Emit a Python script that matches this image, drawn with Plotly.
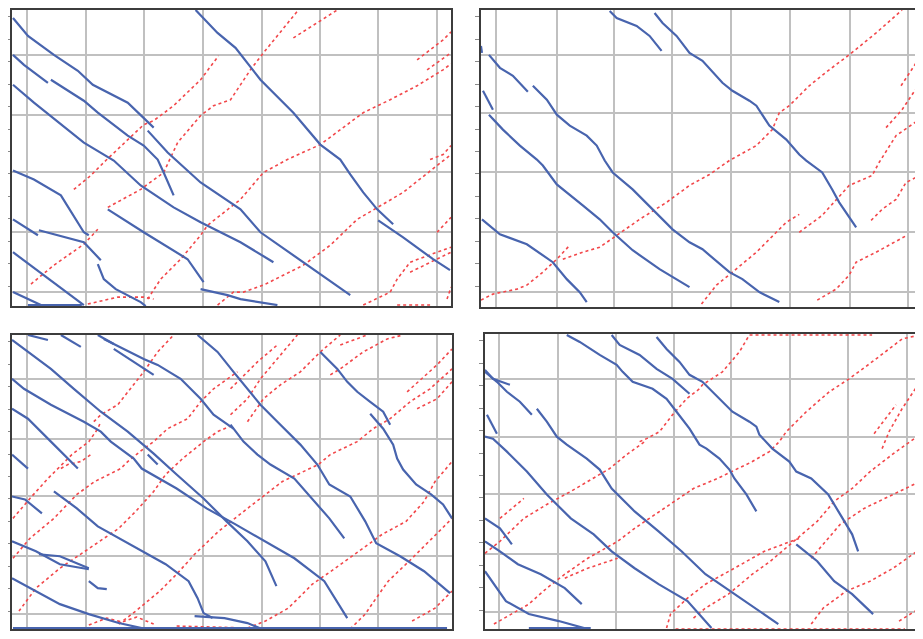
import plotly.graph_objects as go

# ---- Data: time (min from panel start) vs distance (km from top station) ----
# Each list holds train paths; each path is a list of (time, distance) points.

TL_BLUE = [
    [(1,8),(16,26),(42,45),(66,61),(81,75),(116,93),(142,118)],
    [(136,121),(156,143),(189,173),(229,200),(249,223),(292,253),(339,286)],
    [(1,45),(12,55),(36,73)],
    [(39,70),(72,91),(86,103),(116,126),(132,136),(146,150),(152,163),(162,186)],
    [(1,75),(22,93),(72,133),(102,151),(129,176),(162,198),(189,213),(229,233),(262,253)],
    [(1,161),(22,170),(49,186),(72,223),(77,226)],
    [(1,210),(26,226)],
    [(27,221),(72,233),(89,251)],
    [(86,255),(92,270),(104,280),(129,293),(134,297)],
    [(96,200),(132,223),(176,250),(192,273)],
    [(189,280),(216,286),(229,290),(266,296)],
    [(1,243),(32,266),(72,296)],
    [(1,283),(16,290),(29,296)],
    [(16,296),(70,296)],
    [(184,0),(206,23),(224,38),(249,70),(282,103),(309,135),(329,150),(339,165),(352,183),(366,200),(382,215)],
    [(367,211),(392,228),(422,250),(439,261)],
]
TL_RED = [
    [(62,180),(79,166),(94,151),(116,130),(132,115),(142,111),(162,96),(189,70),(207,46)],
    [(96,198),(129,180),(152,163),(161,143),(166,133),(189,106),(202,96),(219,90),(239,60),(252,43),(276,13),(287,0)],
    [(282,28),(306,13),(326,0)],
    [(19,275),(42,256),(72,235),(86,220)],
    [(136,290),(149,270),(169,250),(189,226),(196,216),(229,190),(252,163),(276,150),(309,135),(352,103),(379,90),(406,76),(432,60),(440,54)],
    [(206,296),(222,283),(232,283),(252,276),(292,256),(319,236),(346,210),(366,198),(392,183),(426,156),(440,145)],
    [(406,50),(432,30),(440,22)],
    [(416,60),(436,46),(440,43)],
    [(352,296),(379,283),(386,270),(399,253),(426,243),(440,238)],
    [(399,263),(419,253),(440,243)],
    [(426,223),(440,208)],
    [(436,290),(440,278)],
    [(76,295),(106,288),(132,288),(142,290)],
    [(386,296),(419,296)],
    [(419,150),(432,145),(440,136)],
]

TR_BLUE = [
    [(129,1),(136,8),(156,16),(169,26),(181,41)],
    [(174,3),(182,13),(196,26),(209,43),(222,51),(242,73),(252,81),(269,91),(276,96),(289,116),(306,130),(319,145),(326,151),(342,163),(352,180),(359,193),(376,218)],
    [(0,36),(1,43)],
    [(8,45),(19,58),(32,66),(47,82)],
    [(52,76),(66,90),(76,105),(89,116),(106,126),(116,136),(124,151),(132,163),(152,180),(172,200),(192,220),(209,233),(222,240),(249,263),(262,270),(279,283),(299,293)],
    [(2,81),(12,100)],
    [(8,105),(22,120),(39,136),(56,150),(62,156),(76,175),(102,196),(119,210),(132,223),(152,241),(179,260),(209,278)],
    [(1,210),(19,225),(46,235),(72,253),(86,270),(99,283),(106,293)],
]
TR_RED = [
    [(82,250),(102,243),(119,238),(136,226),(159,210),(186,193),(209,176),(229,165),(249,151),(276,136),(292,120),(299,103),(309,96),(329,76),(349,60),(369,45),(396,23),(422,0)],
    [(0,291),(12,285),(36,280),(46,276),(62,263),(76,250),(89,236)],
    [(221,295),(236,276),(252,263),(276,243),(296,223),(306,213),(319,205)],
    [(319,223),(342,206),(369,176),(392,166),(399,153),(416,126),(442,108)],
    [(406,118),(422,100),(442,70)],
    [(421,76),(442,44)],
    [(391,211),(402,200),(416,190),(426,173),(442,165)],
    [(337,291),(356,280),(369,266),(376,253),(396,243),(427,226)],
]

BL_BLUE = [
    [(0,5),(16,17),(39,34),(62,54),(89,77),(116,97),(142,119),(165,140),(192,164),(215,187),(236,207),(254,227),(265,252)],
    [(16,0),(36,5)],
    [(49,0),(69,12)],
    [(86,0),(102,9)],
    [(102,14),(122,27),(142,40)],
    [(92,4),(132,24),(146,30),(169,44),(189,64),(202,80),(222,94)],
    [(186,0),(206,17),(222,37),(236,54),(249,70),(269,90),(289,110),(306,130),(318,150),(339,162),(354,187),(365,209),(389,222),(413,237),(439,259)],
    [(0,44),(12,54),(39,70),(72,87),(89,97),(99,107),(122,124),(130,134),(165,154),(195,174),(224,190),(254,207),(283,224),(313,247),(336,284)],
    [(0,74),(16,84),(39,107),(56,124),(66,134)],
    [(0,120),(16,134)],
    [(136,120),(146,130)],
    [(309,17),(326,34),(336,47),(346,57),(359,67),(372,77),(379,90)],
    [(359,79),(372,94),(382,110),(386,124),(392,135),(405,150),(420,160),(432,170),(441,184)],
    [(219,90),(232,107),(246,120),(259,130),(283,144),(301,164),(318,184),(333,204)],
    [(42,157),(65,174),(86,192),(107,204),(130,217),(154,230),(177,247),(186,264),(192,279),(201,284)],
    [(0,162),(13,165),(30,179)],
    [(0,207),(24,217),(48,230),(77,235)],
    [(27,220),(48,222),(77,234)],
    [(0,244),(24,257),(48,270),(77,280),(107,289),(130,294)],
    [(77,247),(86,254),(95,255)],
    [(183,282),(213,284),(236,289),(248,294)],
    [(1,294),(436,294)],
]
BL_RED = [
    [(219,80),(236,64),(249,44),(269,20),(286,0)],
    [(219,54),(226,47),(246,27),(266,10)],
    [(236,87),(252,64),(269,50),(289,37),(309,17),(329,0)],
    [(329,10),(356,0)],
    [(319,40),(329,34),(352,17),(376,4),(392,0)],
    [(396,57),(426,30),(441,14)],
    [(107,290),(124,277),(148,257),(165,240),(183,220),(207,197),(236,174),(271,147),(307,130),(319,120),(346,107),(362,94),(379,84),(399,67),(419,54),(441,34)],
    [(406,74),(426,64),(441,47)],
    [(82,87),(89,80),(106,70),(122,50),(132,37),(146,17),(162,0)],
    [(1,224),(18,204),(42,184),(65,160),(83,147),(109,134),(116,127),(132,114),(142,107),(156,94),(176,84),(189,67),(202,54),(212,47),(226,37)],
    [(1,184),(18,164),(36,144),(60,120),(77,107),(86,94),(89,87)],
    [(49,134),(56,130),(69,127),(79,120)],
    [(7,277),(24,254),(48,234),(77,214),(107,194),(124,177),(142,157),(154,140),(171,124),(186,112),(192,107),(206,97),(222,90)],
    [(236,294),(254,287),(277,274),(301,250),(324,234),(348,217),(371,200),(395,187),(413,167),(424,147),(441,127)],
    [(339,295),(354,280),(365,264),(377,247),(401,224),(418,207),(441,184)],
    [(401,287),(424,274),(441,257)],
    [(77,291),(95,284),(110,288),(125,283),(142,290)],
    [(165,292),(236,294)],
]

BR_BLUE = [
    [(82,1),(95,8),(115,21),(132,31),(138,38),(148,48),(168,55),(182,65),(192,78),(205,95),(215,111),(222,115),(235,125),(245,136),(250,145),(262,161),(272,178)],
    [(127,1),(135,11),(155,21),(172,35),(188,45),(205,60)],
    [(172,3),(182,15),(195,28),(205,41),(218,48),(235,65),(248,78),(265,88),(272,93),(275,101),(288,115),(305,128),(312,138),(327,145),(344,161),(356,181),(368,201),(374,218)],
    [(0,36),(8,45),(25,51)],
    [(0,38),(12,48),(22,58),(35,68),(47,81)],
    [(52,75),(62,88),(72,103),(82,111),(102,125),(115,136),(127,155),(150,178),(174,198),(197,218),(221,241),(250,261),(280,281),(294,291)],
    [(2,81),(12,100)],
    [(0,103),(8,105),(22,118),(42,138),(62,161),(86,185),(109,201),(127,218),(150,235),(174,251),(203,268),(227,295)],
    [(312,211),(333,228),(350,248),(368,261),(389,281)],
    [(0,185),(15,195),(27,211)],
    [(0,208),(15,218),(33,231),(56,241),(80,255),(97,271)],
    [(0,238),(9,251),(21,268),(44,281),(74,288),(103,296)],
    [(44,295),(106,295)],
]
BR_RED = [
    [(155,108),(162,105),(175,98),(188,81),(202,65),(215,55),(218,51),(238,38),(255,18),(265,1),(305,1),(388,1)],
    [(0,220),(15,208),(39,185),(62,171),(86,158),(103,148),(125,135),(142,121),(160,108)],
    [(9,291),(27,281),(44,271),(62,255),(80,241),(103,225),(133,208),(150,195),(180,175),(209,155),(233,145),(268,128),(285,118),(295,108),(302,98),(322,78),(345,58),(365,45),(392,25),(418,5),(436,1)],
    [(390,100),(412,71)],
    [(398,115),(405,98),(418,75),(436,48)],
    [(209,285),(221,275),(244,261),(268,241),(286,228),(309,208),(333,188),(350,168),(368,155),(386,138),(412,118),(436,101)],
    [(182,295),(186,281),(203,265),(221,251),(250,235),(280,218),(315,205)],
    [(80,245),(103,235),(133,225)],
    [(327,225),(339,211),(356,191),(380,175),(415,158),(436,148)],
    [(327,291),(339,275),(362,258),(386,248),(409,235),(433,218)],
    [(415,288),(436,275)],
    [(15,185),(39,165)],
    [(191,296),(421,296)],
]

# hourly grid marks (time) and station marks (distance) per panel
TL_XGRID = [15, 74, 132, 191, 251, 309, 367, 426]
TL_YGRID = [45, 105, 163, 223, 283]
TR_XGRID = [15, 76, 133, 191, 251, 310, 370, 428]
TR_YGRID = [45, 103, 163, 223, 283]
BL_XGRID = [15, 74, 132, 191, 251, 309, 367, 426]
BL_YGRID = [44, 104, 162, 222, 280]
BR_XGRID = [14, 73, 131, 189, 247, 306, 364, 423]
BR_YGRID = [45, 103, 161, 221, 279]

# ---- Layout / styling ----
W, H = 923, 639
OFF = 7  # page margin of the html body
FW, FH = W - OFF, H - OFF
BLUE = "#4864AE"
RED = "#F2474A"
GRID = "#C0C0C0"
AXIS = "#3C3C3C"

panels = [
    dict(box=(11, 7, 451, 304), blue=TL_BLUE, red=TL_RED, xg=TL_XGRID, yg=TL_YGRID),
    dict(box=(481, 7, 923, 305), blue=TR_BLUE, red=TR_RED, xg=TR_XGRID, yg=TR_YGRID),
    dict(box=(11, 333, 452, 628), blue=BL_BLUE, red=BL_RED, xg=BL_XGRID, yg=BL_YGRID),
    dict(box=(485, 332, 922, 628), blue=BR_BLUE, red=BR_RED, xg=BR_XGRID, yg=BR_YGRID),
]


def pack(paths):
    xs, ys = [], []
    for path in paths:
        for t, d in path:
            xs.append(t)
            ys.append(d)
        xs.append(None)
        ys.append(None)
    return xs, ys


def clamp(v):
    return max(0.0, min(1.0, v))


fig = go.Figure()
layout = {}
for i, p in enumerate(panels, start=1):
    x0, y0, x1, y1 = p["box"]
    xa = "x" if i == 1 else f"x{i}"
    ya = "y" if i == 1 else f"y{i}"
    rx, ry = pack(p["red"])
    bx, by = pack(p["blue"])
    fig.add_trace(go.Scatter(x=rx, y=ry, mode="lines", xaxis=xa, yaxis=ya,
                             line=dict(color=RED, width=1.6, dash="dot"),
                             hoverinfo="skip", showlegend=False))
    fig.add_trace(go.Scatter(x=bx, y=by, mode="lines", xaxis=xa, yaxis=ya,
                             line=dict(color=BLUE, width=2.2),
                             hoverinfo="skip", showlegend=False))
    # small end-of-axis marks under each panel
    fig.add_trace(go.Scatter(x=[0, x1 - x0], y=[(y1 - y0) + 9] * 2, mode="markers",
                             xaxis=xa, yaxis=ya, cliponaxis=False,
                             marker=dict(color="#444444", size=2.5),
                             hoverinfo="skip", showlegend=False))
    common = dict(showticklabels=False, ticks="", showgrid=True, gridcolor=GRID,
                  gridwidth=1.6, showline=True, linecolor=AXIS, linewidth=2,
                  mirror=True, zeroline=False, fixedrange=True, tickmode="array")
    layout["xaxis" if i == 1 else f"xaxis{i}"] = dict(
        domain=[clamp((x0 - OFF) / FW), clamp((x1 - OFF) / FW)], range=[0, x1 - x0],
        anchor=ya, tickvals=p["xg"], **common)
    layout["yaxis" if i == 1 else f"yaxis{i}"] = dict(
        domain=[clamp(1 - (y1 - OFF) / FH), clamp(1 - (y0 - OFF) / FH)], range=[y1 - y0, 0],
        anchor=xa, tickvals=p["yg"],
        minor=dict(tickmode="linear", tick0=7, dtick=22.5, ticks="outside",
                   ticklen=4, tickcolor="#8A8A8A", showgrid=False),
        **common)

fig.update_layout(width=FW, height=FH, margin=dict(l=0, r=0, t=0, b=0),
                  paper_bgcolor="white", plot_bgcolor="white", **layout)

fig.write_html("out.html")
